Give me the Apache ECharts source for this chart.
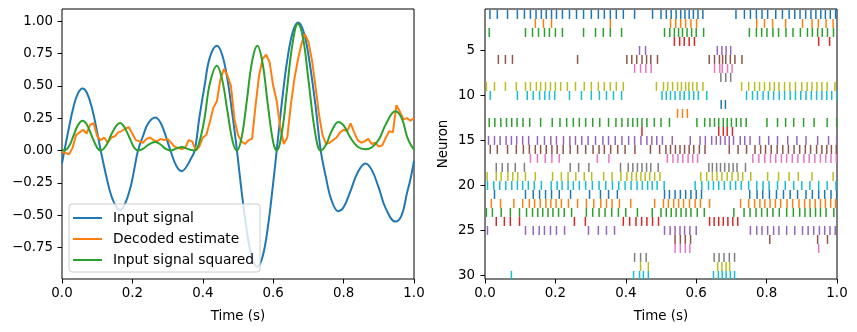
<!DOCTYPE html>
<html>
<head>
<meta charset="utf-8">
<script src="https://cdn.jsdelivr.net/npm/echarts@6/dist/echarts.min.js"></script>
<style>
html,body{margin:0;padding:0;background:#fff;}
#chart{width:857px;height:332px;}
</style>
</head>
<body>
<div id="chart"></div>
<script>
// ---------------- Left panel data ----------------
const seriesNames = ['Input signal', 'Decoded estimate', 'Input signal squared'];
const signalT = [0.000,0.007,0.020,0.033,0.045,0.058,0.070,0.085,0.100,0.110,0.125,0.140,0.155,0.165,0.178,0.195,0.205,0.216,0.230,0.245,0.265,0.280,0.295,0.308,0.325,0.340,0.355,0.365,0.377,0.390,0.405,0.420,0.440,0.455,0.470,0.485,0.497,0.510,0.525,0.540,0.555,0.570,0.585,0.600,0.610,0.625,0.640,0.655,0.670,0.685,0.700,0.720,0.735,0.750,0.765,0.785,0.800,0.820,0.840,0.862,0.880,0.900,0.920,0.947,0.965,0.980,0.990,1.000];
const signalV = [-0.10,0.00,0.18,0.34,0.44,0.48,0.45,0.33,0.14,0.00,-0.19,-0.35,-0.44,-0.46,-0.42,-0.28,-0.15,0.00,0.11,0.21,0.255,0.215,0.11,0.00,-0.12,-0.16,-0.12,-0.07,0.00,0.25,0.50,0.72,0.81,0.74,0.55,0.26,0.00,-0.31,-0.62,-0.83,-0.90,-0.82,-0.59,-0.25,0.00,0.38,0.70,0.91,0.99,0.93,0.74,0.35,0.00,-0.21,-0.38,-0.47,-0.44,-0.31,-0.17,-0.10,-0.15,-0.29,-0.45,-0.55,-0.50,-0.33,-0.22,-0.08];
const squaredV = [0.010,0.000,0.032,0.116,0.194,0.230,0.203,0.109,0.020,0.000,0.036,0.123,0.194,0.212,0.176,0.078,0.023,0.000,0.012,0.044,0.065,0.046,0.012,0.000,0.014,0.026,0.014,0.005,0.000,0.063,0.250,0.518,0.656,0.548,0.303,0.068,0.000,0.096,0.384,0.689,0.810,0.672,0.348,0.063,0.000,0.144,0.490,0.828,0.980,0.865,0.548,0.123,0.000,0.044,0.144,0.221,0.194,0.096,0.029,0.010,0.023,0.084,0.203,0.303,0.250,0.109,0.048,0.006];
const decodedT = [0.00,0.01,0.02,0.03,0.04,0.05,0.06,0.07,0.08,0.09,0.10,0.11,0.12,0.13,0.14,0.15,0.16,0.17,0.18,0.19,0.20,0.21,0.22,0.23,0.24,0.25,0.26,0.27,0.28,0.29,0.30,0.31,0.32,0.33,0.34,0.35,0.36,0.37,0.38,0.39,0.40,0.41,0.42,0.43,0.44,0.45,0.46,0.47,0.48,0.49,0.50,0.51,0.52,0.53,0.54,0.55,0.56,0.57,0.58,0.59,0.60,0.61,0.62,0.63,0.64,0.65,0.66,0.67,0.68,0.69,0.70,0.71,0.72,0.73,0.74,0.75,0.76,0.77,0.78,0.79,0.80,0.81,0.82,0.83,0.84,0.85,0.86,0.87,0.88,0.89,0.90,0.91,0.92,0.93,0.94,0.95,0.96,0.97,0.98,0.99,1.00];
const decodedV = [-0.01,-0.02,-0.03,0.02,0.12,0.14,0.16,0.13,0.20,0.21,0.11,0.08,0.10,0.06,0.10,0.11,0.14,0.15,0.17,0.18,0.13,0.08,0.07,0.06,0.09,0.10,0.08,0.07,0.09,0.08,0.09,0.06,0.03,0.02,0.01,0.02,0.08,0.07,0.00,0.03,0.10,0.12,0.22,0.33,0.38,0.55,0.63,0.58,0.50,0.24,0.12,0.07,0.05,0.08,0.09,0.35,0.58,0.71,0.74,0.68,0.50,0.38,0.18,0.05,0.10,0.35,0.55,0.70,0.82,0.90,0.84,0.70,0.50,0.28,0.12,0.05,0.06,0.08,0.10,0.14,0.16,0.15,0.21,0.14,0.08,0.06,0.07,0.09,0.05,0.06,0.03,0.04,0.10,0.15,0.14,0.35,0.30,0.24,0.25,0.23,0.25];
const leftYTicks = [-0.75,-0.5,-0.25,0,0.25,0.5,0.75,1.0];

// ---------------- Right panel data (spike times, s) ----------------
const neuronTicks = [5,10,15,20,25,30];
const n01 = [0.014,0.035,0.064,0.092,0.112,0.129,0.145,0.160,0.174,0.189,0.203,0.220,0.240,0.260,0.280,0.302,0.322,0.339,0.356,0.373,0.393,0.425,0.476,0.500,0.515,0.529,0.543,0.556,0.568,0.580,0.592,0.605,0.619,0.713,0.737,0.754,0.771,0.787,0.803,0.826,0.845,0.864,0.880,0.895,0.911,0.926,0.940,0.954,0.967,0.981,0.996];
const n02 = [0.143,0.166,0.189,0.356,0.527,0.542,0.556,0.570,0.585,0.601,0.772,0.794,0.817,0.854,0.902,0.929,0.947,0.969,0.989];
const n03 = [0.012,0.115,0.135,0.152,0.169,0.183,0.200,0.220,0.280,0.314,0.336,0.356,0.388,0.510,0.525,0.538,0.550,0.561,0.574,0.587,0.600,0.621,0.751,0.771,0.786,0.801,0.818,0.834,0.855,0.875,0.896,0.916,0.930,0.945,0.958,0.973,0.990];
const n04 = [0.538,0.553,0.566,0.580,0.595,0.948,0.979];
const n05 = [0.439,0.456,0.660,0.673,0.685,0.698];
const n06 = [0.038,0.058,0.078,0.263,0.403,0.417,0.431,0.446,0.459,0.471,0.490,0.637,0.652,0.666,0.675,0.684,0.697,0.710,0.730];
const n07 = [0.425,0.442,0.457,0.472,0.652,0.667,0.674,0.689,0.702];
const n08 = [0.670,0.684,0.698];
const n09 = [0.004,0.027,0.058,0.089,0.115,0.129,0.146,0.158,0.172,0.186,0.200,0.215,0.234,0.257,0.282,0.302,0.322,0.339,0.356,0.373,0.393,0.487,0.507,0.519,0.533,0.547,0.558,0.570,0.579,0.590,0.602,0.619,0.729,0.749,0.766,0.780,0.794,0.809,0.822,0.835,0.851,0.866,0.882,0.900,0.915,0.929,0.943,0.957,0.972,0.994];
const n10 = [0.015,0.092,0.120,0.137,0.155,0.170,0.183,0.198,0.240,0.274,0.302,0.325,0.345,0.365,0.388,0.503,0.515,0.527,0.540,0.554,0.566,0.580,0.593,0.606,0.630,0.743,0.760,0.774,0.790,0.805,0.820,0.836,0.851,0.867,0.882,0.897,0.912,0.927,0.942,0.957,0.971,0.985,0.999];
const n11 = [0.671,0.683];
const n12 = [0.547,0.561,0.575];
const n13 = [0.012,0.028,0.045,0.061,0.076,0.091,0.108,0.127,0.158,0.191,0.213,0.232,0.251,0.268,0.286,0.306,0.326,0.351,0.372,0.389,0.406,0.420,0.433,0.446,0.460,0.481,0.500,0.524,0.602,0.624,0.639,0.652,0.664,0.677,0.688,0.700,0.714,0.727,0.742,0.801,0.831,0.854,0.877,0.905,0.935,0.972,0.999];
const n14 = [0.446,0.664,0.677,0.688,0.703];
const n15 = [0.010,0.027,0.043,0.060,0.075,0.090,0.107,0.124,0.149,0.169,0.187,0.203,0.223,0.241,0.257,0.275,0.293,0.314,0.335,0.351,0.370,0.389,0.408,0.425,0.443,0.460,0.474,0.488,0.504,0.532,0.583,0.611,0.626,0.644,0.657,0.669,0.682,0.694,0.706,0.725,0.738,0.753,0.780,0.806,0.831,0.860,0.886,0.912,0.945,0.976,0.999];
const n16 = [0.015,0.035,0.064,0.089,0.109,0.126,0.143,0.158,0.174,0.190,0.205,0.222,0.242,0.263,0.286,0.307,0.324,0.339,0.357,0.377,0.398,0.426,0.470,0.496,0.514,0.527,0.541,0.554,0.567,0.580,0.593,0.609,0.625,0.694,0.719,0.743,0.767,0.783,0.797,0.813,0.830,0.846,0.862,0.878,0.894,0.910,0.925,0.942,0.957,0.971,0.984,0.998];
const n17 = [0.129,0.149,0.171,0.190,0.211,0.319,0.352,0.518,0.534,0.548,0.562,0.577,0.590,0.604,0.761,0.778,0.795,0.811,0.826,0.842,0.857,0.873,0.889,0.906,0.921,0.937,0.953,0.968,0.983,0.998];
const n18 = [0.032,0.049,0.065,0.086,0.112,0.242,0.266,0.295,0.385,0.407,0.420,0.433,0.446,0.459,0.471,0.492,0.636,0.646,0.658,0.669,0.681,0.693,0.705,0.716,0.740];
const n19 = [0.006,0.032,0.046,0.065,0.079,0.093,0.115,0.143,0.192,0.217,0.236,0.258,0.282,0.303,0.337,0.361,0.386,0.403,0.417,0.430,0.443,0.455,0.468,0.482,0.497,0.613,0.630,0.646,0.659,0.673,0.688,0.702,0.719,0.732,0.755,0.803,0.834,0.864,0.890,0.929,0.989];
const n20 = [0.007,0.025,0.042,0.059,0.076,0.092,0.107,0.123,0.140,0.160,0.188,0.205,0.219,0.236,0.251,0.268,0.286,0.305,0.324,0.343,0.362,0.380,0.398,0.415,0.432,0.447,0.462,0.475,0.489,0.509,0.597,0.616,0.635,0.649,0.664,0.680,0.697,0.712,0.728,0.749,0.772,0.790,0.807,0.831,0.853,0.877,0.900,0.923,0.948,0.972,0.997];
const n21 = [0.027,0.115,0.137,0.155,0.172,0.189,0.211,0.243,0.297,0.328,0.351,0.376,0.510,0.524,0.540,0.555,0.570,0.585,0.600,0.615,0.752,0.773,0.789,0.808,0.828,0.848,0.867,0.888,0.912,0.930,0.948,0.965,0.983,0.999];
const n22 = [0.018,0.044,0.082,0.107,0.126,0.141,0.157,0.173,0.187,0.202,0.217,0.237,0.263,0.288,0.309,0.329,0.345,0.361,0.382,0.414,0.482,0.507,0.521,0.536,0.550,0.564,0.581,0.597,0.612,0.638,0.726,0.749,0.766,0.781,0.795,0.810,0.825,0.840,0.858,0.874,0.892,0.908,0.923,0.938,0.953,0.967,0.982,0.996];
const n23 = [0.004,0.021,0.046,0.072,0.098,0.118,0.135,0.150,0.164,0.179,0.193,0.209,0.225,0.246,0.288,0.306,0.324,0.341,0.360,0.379,0.400,0.433,0.475,0.500,0.515,0.529,0.543,0.557,0.571,0.585,0.603,0.623,0.707,0.736,0.753,0.770,0.786,0.802,0.818,0.836,0.857,0.876,0.894,0.909,0.924,0.939,0.953,0.969,0.991];
const n24 = [0.032,0.055,0.072,0.098,0.254,0.285,0.393,0.411,0.429,0.445,0.460,0.476,0.493,0.638,0.651,0.664,0.677,0.690,0.704,0.718];
const n25 = [0.007,0.115,0.137,0.154,0.169,0.186,0.203,0.226,0.294,0.322,0.345,0.368,0.510,0.526,0.540,0.554,0.567,0.582,0.600,0.754,0.772,0.787,0.803,0.820,0.835,0.857,0.880,0.902,0.918,0.934,0.950,0.965,0.980,0.995];
const n26 = [0.540,0.555,0.569,0.584,0.809,0.945,0.973];
const n27 = [0.540,0.555,0.569,0.582,0.948];
const n28 = [0.425,0.442,0.458,0.651,0.665,0.679,0.694,0.709];
const n29 = [0.442,0.464,0.661,0.673,0.685,0.695];
const n30 = [0.075,0.422,0.439,0.450,0.464,0.649,0.663,0.674,0.685,0.697,0.709];
const spikeTrains = [n01,n02,n03,n04,n05,n06,n07,n08,n09,n10,n11,n12,n13,n14,n15,n16,n17,n18,n19,n20,n21,n22,n23,n24,n25,n26,n27,n28,n29,n30];

// ---------------- Build chart ----------------
const palette = ['#1f77b4','#ff7f0e','#2ca02c','#d62728','#9467bd','#8c564b','#e377c2','#7f7f7f','#bcbd22','#17becf'];
const FONT = 'DejaVu Sans';
const txt = {color:'#000', fontSize:13.4, fontFamily:FONT};

const pair = (xs, ys) => xs.map((x, i) => [x, ys[i]]);
const rasterData = [];
spikeTrains.forEach((train, i) => train.forEach(t => rasterData.push([t, i + 1])));

function xAxisDef(gridIndex) {
  return {
    type:'value', gridIndex, min:0, max:1, interval:0.2,
    axisLine:{show:false, onZero:false},
    axisTick:{show:true, length:4.5, lineStyle:{color:'#000', width:1}},
    axisLabel:Object.assign({margin:8, formatter:v => v.toFixed(1)}, txt),
    splitLine:{show:false},
    name:'Time (s)', nameLocation:'middle', nameGap:31, nameTextStyle:txt
  };
}

const chart = echarts.init(document.getElementById('chart'), null, {renderer:'canvas'});
chart.setOption({
  animation:false,
  backgroundColor:'#fff',
  grid:[
    {left:62, top:9, width:352, height:270, show:true, borderColor:'#000', borderWidth:1, backgroundColor:'transparent'},
    {left:485, top:9, width:352, height:270, show:true, borderColor:'#000', borderWidth:1, backgroundColor:'transparent'}
  ],
  xAxis:[xAxisDef(0), xAxisDef(1)],
  yAxis:[
    {
      type:'value', gridIndex:0, min:-0.994, max:1.094,
      axisLine:{show:false, onZero:false},
      axisTick:{show:true, length:4.5, customValues:leftYTicks, lineStyle:{color:'#000', width:1}},
      axisLabel:Object.assign({margin:9, customValues:leftYTicks,
        formatter:v => v.toFixed(2).replace('-', '\u2212')}, txt),
      splitLine:{show:false}
    },
    {
      type:'value', gridIndex:1, min:0.4, max:30.4, inverse:true,
      axisLine:{show:false, onZero:false},
      axisTick:{show:true, length:4.5, customValues:neuronTicks, lineStyle:{color:'#000', width:1}},
      axisLabel:Object.assign({margin:10, customValues:neuronTicks}, txt),
      splitLine:{show:false},
      name:'Neuron', nameLocation:'middle', nameGap:35, nameRotate:90, nameTextStyle:txt
    }
  ],
  legend:{
    orient:'vertical', left:69, top:204,
    data:seriesNames,
    icon:'rect', itemWidth:29, itemHeight:2, itemGap:7,
    textStyle:{color:'#000', fontSize:13.8, fontFamily:FONT, lineHeight:14, padding:[0,0,0,6]},
    backgroundColor:'rgba(255,255,255,0.8)', borderColor:'#cccccc', borderWidth:1, borderRadius:3,
    padding:[7,6,5,4]
  },
  series:[
    {name:seriesNames[0], type:'line', xAxisIndex:0, yAxisIndex:0, data:pair(signalT, signalV),
      smooth:0.4, showSymbol:false, symbol:'none', color:palette[0], lineStyle:{width:2, color:palette[0]}},
    {name:seriesNames[1], type:'line', xAxisIndex:0, yAxisIndex:0, data:pair(decodedT, decodedV),
      smooth:false, showSymbol:false, symbol:'none', color:palette[1], lineStyle:{width:2, color:palette[1]}},
    {name:seriesNames[2], type:'line', xAxisIndex:0, yAxisIndex:0, data:pair(signalT, squaredV),
      smooth:0.4, showSymbol:false, symbol:'none', color:palette[2], lineStyle:{width:2, color:palette[2]}},
    {
      type:'custom', xAxisIndex:1, yAxisIndex:1, data:rasterData, encode:{x:0, y:1}, clip:true,
      renderItem:function(params, api){
        const t = api.value(0), n = api.value(1);
        const p1 = api.coord([t, n - 0.5]);
        const p2 = api.coord([t, n + 0.5]);
        return {type:'line', shape:{x1:p1[0], y1:p1[1], x2:p2[0], y2:p2[1]},
          style:{stroke:palette[(n - 1) % 10], lineWidth:1.5}};
      }
    }
  ]
});
</script>
</body>
</html>
